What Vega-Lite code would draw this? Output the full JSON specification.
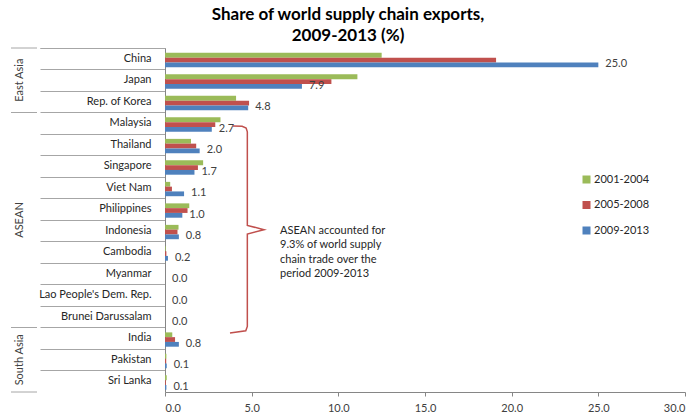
{
  "$schema": "https://vega.github.io/schema/vega-lite/v6.json",
  "padding": {"left": 10, "top": 6, "right": 0, "bottom": 0},
  "background": "white",
  "title": {
    "text": ["Share of world supply chain exports,", "2009-2013 (%)"],
    "font": "Lato", "fontSize": 17, "fontWeight": "bold", "color": "#000000",
    "lineHeight": 21, "anchor": "middle", "offset": -3
  },
  "config": {
    "view": {"stroke": null},
    "font": "Lato"
  },
  "datasets": {
    "bars": [
      {"country": "China", "period": "2001-2004", "value": 12.5},
      {"country": "China", "period": "2005-2008", "value": 19.1},
      {"country": "China", "period": "2009-2013", "value": 25.0},
      {"country": "Japan", "period": "2001-2004", "value": 11.1},
      {"country": "Japan", "period": "2005-2008", "value": 9.6},
      {"country": "Japan", "period": "2009-2013", "value": 7.9},
      {"country": "Rep. of Korea", "period": "2001-2004", "value": 4.1},
      {"country": "Rep. of Korea", "period": "2005-2008", "value": 4.85},
      {"country": "Rep. of Korea", "period": "2009-2013", "value": 4.8},
      {"country": "Malaysia", "period": "2001-2004", "value": 3.2},
      {"country": "Malaysia", "period": "2005-2008", "value": 2.9},
      {"country": "Malaysia", "period": "2009-2013", "value": 2.7},
      {"country": "Thailand", "period": "2001-2004", "value": 1.5},
      {"country": "Thailand", "period": "2005-2008", "value": 1.8},
      {"country": "Thailand", "period": "2009-2013", "value": 2.0},
      {"country": "Singapore", "period": "2001-2004", "value": 2.2},
      {"country": "Singapore", "period": "2005-2008", "value": 1.9},
      {"country": "Singapore", "period": "2009-2013", "value": 1.7},
      {"country": "Viet Nam", "period": "2001-2004", "value": 0.3},
      {"country": "Viet Nam", "period": "2005-2008", "value": 0.4},
      {"country": "Viet Nam", "period": "2009-2013", "value": 1.1},
      {"country": "Philippines", "period": "2001-2004", "value": 1.4},
      {"country": "Philippines", "period": "2005-2008", "value": 1.3},
      {"country": "Philippines", "period": "2009-2013", "value": 1.0},
      {"country": "Indonesia", "period": "2001-2004", "value": 0.78},
      {"country": "Indonesia", "period": "2005-2008", "value": 0.72},
      {"country": "Indonesia", "period": "2009-2013", "value": 0.8},
      {"country": "Cambodia", "period": "2001-2004", "value": 0.04},
      {"country": "Cambodia", "period": "2005-2008", "value": 0.08},
      {"country": "Cambodia", "period": "2009-2013", "value": 0.17},
      {"country": "Myanmar", "period": "2001-2004", "value": 0.0},
      {"country": "Myanmar", "period": "2005-2008", "value": 0.0},
      {"country": "Myanmar", "period": "2009-2013", "value": 0.0},
      {"country": "Lao People's Dem. Rep.", "period": "2001-2004", "value": 0.0},
      {"country": "Lao People's Dem. Rep.", "period": "2005-2008", "value": 0.0},
      {"country": "Lao People's Dem. Rep.", "period": "2009-2013", "value": 0.0},
      {"country": "Brunei Darussalam", "period": "2001-2004", "value": 0.0},
      {"country": "Brunei Darussalam", "period": "2005-2008", "value": 0.0},
      {"country": "Brunei Darussalam", "period": "2009-2013", "value": 0.0},
      {"country": "India", "period": "2001-2004", "value": 0.42},
      {"country": "India", "period": "2005-2008", "value": 0.58},
      {"country": "India", "period": "2009-2013", "value": 0.8},
      {"country": "Pakistan", "period": "2001-2004", "value": 0.08},
      {"country": "Pakistan", "period": "2005-2008", "value": 0.07},
      {"country": "Pakistan", "period": "2009-2013", "value": 0.1},
      {"country": "Sri Lanka", "period": "2001-2004", "value": 0.1},
      {"country": "Sri Lanka", "period": "2005-2008", "value": 0.05},
      {"country": "Sri Lanka", "period": "2009-2013", "value": 0.08}
    ],
    "groups": [
      {"group": "East Asia", "first": "China", "last": "Rep. of Korea", "mid": "Japan"},
      {"group": "ASEAN", "first": "Malaysia", "last": "Brunei Darussalam", "mid": "Philippines"},
      {"group": "South Asia", "first": "India", "last": "Sri Lanka", "mid": "Pakistan"}
    ],
    "brace": [
      {"i": 1, "x": 3.92, "y": 3.63},
      {"i": 2, "x": 4.45, "y": 3.64},
      {"i": 3, "x": 4.68, "y": 3.72},
      {"i": 4, "x": 4.75, "y": 3.9},
      {"i": 5, "x": 4.75, "y": 8.25},
      {"i": 6, "x": 5.71, "y": 8.45},
      {"i": 7, "x": 4.75, "y": 8.65},
      {"i": 8, "x": 4.75, "y": 12.95},
      {"i": 9, "x": 4.66, "y": 13.15},
      {"i": 10, "x": 3.75, "y": 13.26}
    ],
    "note": [
      {"x": 6.64, "y": 8.51, "text": ["ASEAN accounted for", "9.3% of world supply", "chain trade over the", "period 2009-2013"]}
    ]
  },
  "spacing": 0,
  "hconcat": [
    {
      "width": 26,
      "height": 344,
      "data": {"name": "groups"},
      "layer": [
        {
          "mark": {"type": "rule", "color": "#a6a6a6", "strokeWidth": 1},
          "encoding": {
            "y": {"field": "first", "type": "nominal", "bandPosition": 0, "axis": null,
                  "scale": {"domain": ["China", "Japan", "Rep. of Korea", "Malaysia", "Thailand", "Singapore", "Viet Nam", "Philippines", "Indonesia", "Cambodia", "Myanmar", "Lao People's Dem. Rep.", "Brunei Darussalam", "India", "Pakistan", "Sri Lanka"], "paddingInner": 0, "paddingOuter": 0}}
          }
        },
        {
          "mark": {"type": "rule", "color": "#a6a6a6", "strokeWidth": 1},
          "encoding": {
            "y": {"field": "last", "type": "nominal", "bandPosition": 1, "axis": null}
          }
        },
        {
          "transform": [{"filter": "datum.group !== 'ASEAN'"}],
          "mark": {"type": "text", "angle": 270, "fontSize": 11, "color": "#404040", "align": "center", "baseline": "middle", "dy": -4},
          "encoding": {
            "y": {"field": "mid", "type": "nominal", "axis": null},
            "text": {"field": "group"}
          }
        },
        {
          "transform": [{"filter": "datum.group === 'ASEAN'"}],
          "mark": {"type": "text", "angle": 270, "fontSize": 11, "color": "#404040", "align": "center", "baseline": "middle", "dy": -4},
          "encoding": {
            "y": {"field": "mid", "type": "nominal", "bandPosition": 1, "axis": null},
            "text": {"field": "group"}
          }
        }
      ]
    },
    {
      "width": 520,
      "height": 344,
      "layer": [
        {
          "data": {"name": "bars"},
          "mark": {"type": "bar"},
          "encoding": {
            "y": {
              "field": "country", "type": "nominal",
              "sort": ["China", "Japan", "Rep. of Korea", "Malaysia", "Thailand", "Singapore", "Viet Nam", "Philippines", "Indonesia", "Cambodia", "Myanmar", "Lao People's Dem. Rep.", "Brunei Darussalam", "India", "Pakistan", "Sri Lanka"],
              "scale": {"paddingInner": 0, "paddingOuter": 0},
              "axis": {
                "title": null, "bandPosition": 0, "tickExtra": true, "tickSize": 125,
                "tickColor": "#a6a6a6", "domainColor": "#868686", "labelPadding": -111,
                "labelFontSize": 11, "labelColor": "#262626", "labelFont": "Lato"
              }
            },
            "x": {
              "field": "value", "type": "quantitative",
              "scale": {"domain": [0, 30], "nice": false},
              "axis": {
                "title": null, "grid": false, "values": [0, 5, 10, 15, 20, 25, 30], "format": ".1f",
                "tickSize": 4, "tickColor": "#868686", "domainColor": "#868686",
                "labelFontSize": 11, "labelColor": "#404040", "labelPadding": 6, "labelFont": "Lato"
              }
            },
            "yOffset": {
              "field": "period", "type": "nominal", "sort": ["2001-2004", "2005-2008", "2009-2013"],
              "scale": {"paddingInner": 0, "paddingOuter": 0.75, "align": 0.68}
            },
            "color": {
              "field": "period", "type": "nominal",
              "scale": {"domain": ["2001-2004", "2005-2008", "2009-2013"], "range": ["#9BBB59", "#C0504D", "#4F81BD"]},
              "legend": {
                "title": null, "orient": "none", "legendX": 570, "legendY": 126,
                "symbolType": "square", "symbolSize": 64, "symbolStrokeWidth": 0,
                "labelFontSize": 11, "labelColor": "#262626", "labelFont": "Lato",
                "rowPadding": 13.5, "labelOffset": 2, "padding": 0
              }
            }
          }
        },
        {
          "data": {"name": "bars"},
          "transform": [{"filter": "datum.period === '2009-2013'"}],
          "mark": {"type": "text", "align": "left", "baseline": "middle", "dx": 7, "dy": 5.5, "fontSize": 11, "color": "#404040"},
          "encoding": {
            "y": {
              "field": "country", "type": "nominal",
              "sort": ["China", "Japan", "Rep. of Korea", "Malaysia", "Thailand", "Singapore", "Viet Nam", "Philippines", "Indonesia", "Cambodia", "Myanmar", "Lao People's Dem. Rep.", "Brunei Darussalam", "India", "Pakistan", "Sri Lanka"],
              "scale": {"paddingInner": 0, "paddingOuter": 0},
              "axis": null
            },
            "x": {"field": "value", "type": "quantitative"},
            "text": {"field": "value", "type": "quantitative", "format": ".1f"}
          }
        },
        {
          "data": {"name": "brace"},
          "mark": {"type": "line", "color": "#C0504D", "strokeWidth": 1.5, "interpolate": "linear"},
          "encoding": {
            "x": {"field": "x", "type": "quantitative"},
            "y": {"field": "y", "type": "quantitative", "scale": {"domain": [0, 16], "reverse": true, "nice": false, "zero": false}, "axis": null},
            "order": {"field": "i", "type": "quantitative"}
          }
        },
        {
          "data": {"name": "note"},
          "mark": {"type": "text", "align": "left", "baseline": "middle", "fontSize": 11, "lineHeight": 14.5, "color": "#262626"},
          "encoding": {
            "x": {"field": "x", "type": "quantitative"},
            "y": {"field": "y", "type": "quantitative", "scale": {"domain": [0, 16], "reverse": true, "nice": false, "zero": false}, "axis": null},
            "text": {"field": "text"}
          }
        }
      ],
      "resolve": {"scale": {"y": "independent"}}
    }
  ]
}
